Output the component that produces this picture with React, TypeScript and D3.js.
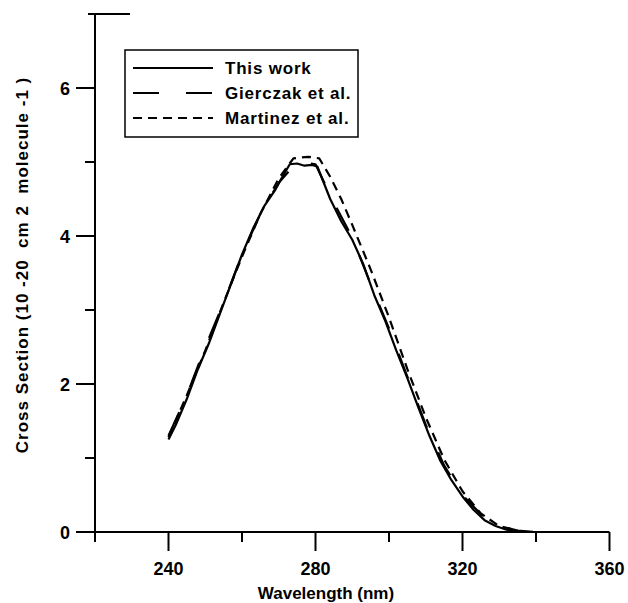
import React from "react";
import * as d3 from "d3";

const xTicksMajor = [240, 280, 320, 360];
const xTicksMinor = [260, 300, 340];
const yTicksMajor = [0, 2, 4, 6];
const yTicksMinor = [1, 3, 5];

const thisWorkWl = [240, 242, 245, 248, 251, 254, 257, 260, 263, 266, 269, 271, 273, 275, 277, 279, 280.5, 282, 284, 287, 290, 293, 296, 299, 302, 305, 308, 311, 314, 317, 320, 323, 326, 329, 332, 335, 338];
const thisWorkVal = [1.25, 1.45, 1.8, 2.2, 2.55, 2.95, 3.35, 3.75, 4.1, 4.4, 4.62, 4.8, 4.97, 4.98, 4.95, 4.96, 4.94, 4.75, 4.5, 4.2, 3.95, 3.62, 3.2, 2.85, 2.45, 2.08, 1.68, 1.3, 0.96, 0.7, 0.48, 0.3, 0.16, 0.08, 0.03, 0.01, 0];

const gierczakWl = [240, 245, 250, 255, 260, 265, 270, 275, 280, 285, 290, 295, 300, 305, 310, 315, 320, 325, 330, 335, 340];
const gierczakVal = [1.3, 1.85, 2.5, 3.1, 3.75, 4.3, 4.72, 5.0, 4.97, 4.45, 3.98, 3.35, 2.75, 2.1, 1.45, 0.9, 0.5, 0.24, 0.08, 0.02, 0];

const martinezWl = [240, 245, 250, 255, 260, 265, 270, 274, 278, 281, 284, 287, 290, 295, 300, 305, 310, 315, 320, 325, 330, 335];
const martinezVal = [1.28, 1.85, 2.45, 3.1, 3.72, 4.3, 4.78, 5.05, 5.07, 5.05, 4.8, 4.5, 4.15, 3.55, 2.9, 2.2, 1.55, 0.98, 0.55, 0.25, 0.08, 0.02];

const legendLabels = ["This work", "Gierczak et al.", "Martinez et al."];
const legendDash = ["none", "26,27", "9,6"];

const FONT = "'Liberation Sans', Arial, sans-serif";

export default function App() {
  const W = 628, H = 603;
  const x = d3.scaleLinear().domain([220, 360]).range([95, 609.5]);
  const y = d3.scaleLinear().domain([0, 7]).range([532, 14]);
  const line = d3.line<[number, number]>().x(d => x(d[0])).y(d => y(d[1])).curve(d3.curveLinear);

  const series = [
    { wl: thisWorkWl, v: thisWorkVal, dash: legendDash[0] },
    { wl: gierczakWl, v: gierczakVal, dash: legendDash[1] },
    { wl: martinezWl, v: martinezVal, dash: legendDash[2] },
  ];

  return (
    <svg width={W} height={H} style={{ position: "absolute", left: 0, top: 0, background: "#fff" }} fontFamily={FONT}>
      <rect x={0} y={0} width={W} height={H} fill="#fff" />
      {/* axes */}
      <line x1={x(220)} x2={x(220)} y1={y(7)} y2={y(0) + 10} stroke="#000" strokeWidth={2} />
      <line x1={x(220) - 19} x2={x(360)} y1={y(0)} y2={y(0)} stroke="#000" strokeWidth={2} />
      <line x1={88} x2={130} y1={y(7)} y2={y(7)} stroke="#000" strokeWidth={2} />
      {xTicksMajor.map(t => (
        <g key={"xm" + t}>
          <line x1={x(t)} x2={x(t)} y1={y(0)} y2={y(0) + 19} stroke="#000" strokeWidth={2} />
          <text x={x(t)} y={575} textAnchor="middle" fontSize={18} fontWeight="bold">{t}</text>
        </g>
      ))}
      {xTicksMinor.map(t => (
        <line key={"xn" + t} x1={x(t)} x2={x(t)} y1={y(0)} y2={y(0) + 10} stroke="#000" strokeWidth={2} />
      ))}
      {yTicksMajor.map(t => (
        <g key={"ym" + t}>
          <line x1={x(220) - 19} x2={x(220)} y1={y(t)} y2={y(t)} stroke="#000" strokeWidth={2} />
          <text x={70} y={y(t) + 6.5} textAnchor="end" fontSize={18} fontWeight="bold">{t}</text>
        </g>
      ))}
      {yTicksMinor.map(t => (
        <line key={"yn" + t} x1={x(220) - 10} x2={x(220)} y1={y(t)} y2={y(t)} stroke="#000" strokeWidth={2} />
      ))}
      <text x={326} y={599} textAnchor="middle" fontSize={17} fontWeight="bold">Wavelength (nm)</text>
      <text transform={`translate(28,265) rotate(-90)`} textAnchor="middle" fontSize={17} fontWeight="bold" letterSpacing={1} style={{ whiteSpace: "pre" }}>Cross Section (10 -20  cm 2  molecule -1 )</text>

      {/* curves */}
      {series.map((s, i) => (
        <path key={"s" + i} d={line(s.wl.map((w, j) => [w, s.v[j]] as [number, number])) || ""} fill="none" stroke="#000" strokeWidth={2.2} strokeDasharray={s.dash === "none" ? undefined : s.dash} strokeLinejoin="round" />
      ))}

      {/* legend */}
      <rect x={125} y={50} width={233} height={87} fill="#fff" stroke="#000" strokeWidth={1.5} />
      {legendLabels.map((l, i) => (
        <g key={"lg" + i}>
          <line x1={133} x2={213} y1={68 + i * 25} y2={68 + i * 25} stroke="#000" strokeWidth={2} strokeDasharray={legendDash[i] === "none" ? undefined : legendDash[i]} />
          <text x={225} y={68 + i * 25 + 6} fontSize={17} fontWeight="bold" letterSpacing={0.8}>{l}</text>
        </g>
      ))}
    </svg>
  );
}
